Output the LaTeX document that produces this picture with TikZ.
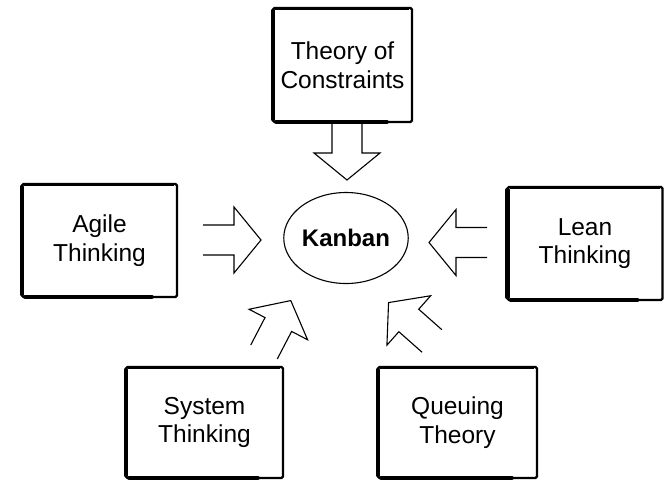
\documentclass[tikz,border=0pt]{standalone}
\usepackage{fontspec}
\setmainfont{Liberation Sans}
\usetikzlibrary{shapes.geometric}
\begin{document}
\begin{tikzpicture}[x=1pt,y=1pt,
  box/.style={draw, line width=2.4pt, rectangle, inner sep=0pt, outer sep=0pt, align=center,
    font=\fontsize{24.5}{28.5}\selectfont, rounded corners=1.5pt},
  heavy/.style={line width=4.6pt, line cap=round},
  mid/.style={line width=3.6pt, line cap=round},
  hub/.style={draw, ellipse, line width=1.1pt, inner sep=0pt, minimum width=121, minimum height=91,
    font=\bfseries\fontsize{24}{28}\selectfont},
  blockarrow/.pic={\draw[line width=1.1pt, line join=miter]
     (0,15) -- (31,15) -- (31,33) -- (58,0) -- (31,-33) -- (31,-15) -- (0,-15);}
]
\useasboundingbox (0,0) rectangle (664,-480);

% boxes
\node[box, minimum width=139, minimum height=114] (toc) at (342.5,-65) {Theory of\\Constraints};
\node[box, minimum width=155, minimum height=113] (agile) at (99.5,-240.5) {Agile\\Thinking};
\node[box, minimum width=155, minimum height=113] (lean) at (585,-243.5) {Lean\\Thinking};
\node[box, minimum width=157, minimum height=111] (sys) at (204.5,-422.5) {System\\Thinking};
\node[box, minimum width=159, minimum height=111] (que) at (457.5,-422.5) {Queuing\\Theory};

% sketchy heavier strokes
\foreach \n in {toc,agile,lean,sys,que}{
  \draw[heavy] ([yshift=-3pt]\n.north west) -- ([yshift=3pt]\n.south west);
  \draw[mid] ([xshift=3pt]\n.south west) -- ([xshift=-25pt]\n.south east);
  \draw[line width=3pt] ([xshift=2pt]\n.north west) -- ([xshift=-3pt]\n.north east);
}

% hub
\node[hub] (kanban) at (346,-238) {Kanban};

% block arrows
\pic at (347,-122) [rotate=-90] {blockarrow};
\pic at (203,-240) {blockarrow};
\pic at (487,-242.5) [rotate=180] {blockarrow};
\pic at (264,-352) [rotate=62.5] {blockarrow};
\pic at (432,-341) [rotate=138.5] {blockarrow};
\end{tikzpicture}
\end{document}
